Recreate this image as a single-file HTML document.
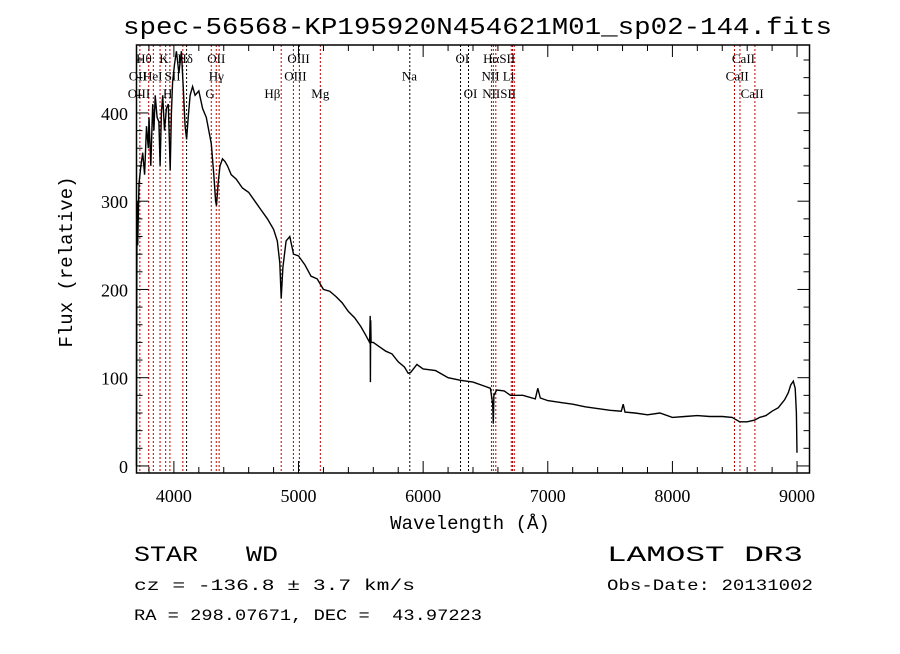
<!DOCTYPE html>
<html><head><meta charset="utf-8"><style>
body{margin:0;background:#fff;}
svg text{font-family:"Liberation Serif",serif;fill:#000;white-space:pre;}
.mono{font-family:"Liberation Mono",monospace;}
</style></head><body>
<svg id="chart" width="900" height="649" xmlns="http://www.w3.org/2000/svg">
<rect width="900" height="649" fill="#fff"/>
<text class="mono" x="123" y="34" font-size="24" textLength="709" lengthAdjust="spacingAndGlyphs">spec-56568-KP195920N454621M01_sp02-144.fits</text>
<g id="lines"></g>
<g id="labels"></g>
<g id="plot"></g>
<g id="axes"></g>
<text class="mono" x="470" y="529" font-size="19" text-anchor="middle">Wavelength (Å)</text>
<text class="mono" transform="translate(72,262) rotate(-90)" font-size="19" text-anchor="middle">Flux (relative)</text>
<text class="mono" x="134" y="561" font-size="22" textLength="144" lengthAdjust="spacingAndGlyphs" xml:space="preserve">STAR   WD</text>
<text class="mono" x="607" y="561" font-size="22" textLength="196" lengthAdjust="spacingAndGlyphs">LAMOST DR3</text>
<text class="mono" x="134" y="590" font-size="16" textLength="281" lengthAdjust="spacingAndGlyphs">cz = -136.8 ± 3.7 km/s</text>
<text class="mono" x="607" y="590" font-size="16" textLength="206" lengthAdjust="spacingAndGlyphs">Obs-Date: 20131002</text>
<text class="mono" x="134" y="620" font-size="16" textLength="348" lengthAdjust="spacingAndGlyphs" xml:space="preserve">RA = 298.07671, DEC =  43.97223</text>
</svg>
<script>
const wave = [3700,3702,3705,3710,3720,3735,3750,3765,3780,3795,3800,3815,3830,3840,3850,3865,3880,3889,3900,3910,3925,3940,3955,3970,3980,3990,4005,4020,4040,4060,4075,4090,4102,4115,4130,4150,4170,4200,4230,4260,4280,4300,4320,4335,4342,4355,4370,4390,4410,4430,4460,4500,4550,4600,4650,4700,4750,4800,4830,4850,4861,4875,4900,4930,4960,5000,5050,5100,5150,5200,5250,5300,5350,5400,5450,5500,5540,5570,5575,5577,5579,5582,5600,5650,5700,5750,5800,5850,5880,5900,5950,6000,6100,6200,6300,6400,6500,6540,6558,6563,6568,6590,6650,6700,6800,6900,6920,6940,7000,7100,7200,7300,7400,7500,7590,7605,7620,7700,7800,7900,8000,8100,8200,8300,8400,8480,8540,8600,8660,8700,8750,8800,8850,8900,8930,8950,8970,8985,8995,9000];
const flux = [0,160,300,250,320,340,355,330,385,360,395,340,410,380,420,395,390,340,400,420,380,405,410,335,400,435,455,470,445,470,430,385,370,395,420,430,420,425,405,395,380,365,330,300,295,320,340,348,345,340,330,325,315,310,300,290,280,268,255,230,190,225,255,260,240,238,228,215,212,200,198,192,185,175,168,158,148,140,170,95,165,140,140,135,130,127,118,112,105,106,115,110,108,100,97,95,90,88,70,48,80,86,85,80,80,76,88,77,74,72,70,67,65,63,62,70,61,60,58,60,55,56,57,56,56,55,50,50,52,55,57,62,66,75,83,92,96,88,60,15];
const markWave = [3727,3798,3835,3889,3934,3968,4072,4102,4300,4340,4363,4861,4959,5007,5175,5893,6300,6364,6548,6563,6583,6707,6717,6731,8498,8542,8662];
const markColor = ["r","r","r","r","r","r","r","k","r","r","r","r","r","r","r","k","k","k","r","r","r","r","r","r","r","r","r"];
const labelText = ["Hθ","K","Hδ","OII","OIII","OI","HαSII","CaII","OII","HeI","SII","Hγ","OIII","Na","NII Li","CaII","OIII","H","G","Hβ","Mg","OI","NIISII","CaII"];
const labelWave = [3760,3920,4090,4340,5000,6315,6610,8570,3710,3830,3990,4340,4975,5890,6600,8520,3720,3950,4290,4790,5175,6380,6610,8640];
const labelRow = [0,0,0,0,0,0,0,0,1,1,1,1,1,1,1,1,2,2,2,2,2,2,2,2];
const xTicks = [4000,5000,6000,7000,8000,9000];
const yTicks = [0,100,200,300,400];

const X0=136.5,X1=809.5,Y0=473,Y1=45;
const xmin=3700,xmax=9100,ymin=-8,ymax=477;
const xs=w=>X0+(w-xmin)/(xmax-xmin)*(X1-X0);
const ys=f=>Y0-(f-ymin)/(ymax-ymin)*(Y0-Y1);
const NS="http://www.w3.org/2000/svg";
function mk(tag,parent){const e=document.createElementNS(NS,tag);document.getElementById(parent).appendChild(e);return e;}

markWave.forEach((w,i)=>{
  const l=mk('line','lines');
  
  
  l.setAttribute('x1',xs(w));l.setAttribute('x2',xs(w));
  l.setAttribute('y1',Y1);l.setAttribute('y2',Y0);
  l.setAttribute('stroke',markColor[i]==="r"?"#c00000":"#000");
  l.setAttribute('stroke-width','1');l.setAttribute('stroke-dasharray','2,2');
});
labelText.forEach((t,i)=>{
  const e=mk('text','labels');
  
  
  e.setAttribute('x',xs(labelWave[i]));e.setAttribute('y',63+labelRow[i]*17.5);
  e.setAttribute('font-size','13');e.setAttribute('text-anchor','middle');
  e.textContent=t;
});
const p=mk('polyline','plot');


p.setAttribute('points',wave.map((w,i)=>xs(w).toFixed(1)+','+ys(flux[i]).toFixed(1)).join(' '));
p.setAttribute('fill','none');p.setAttribute('stroke','#000');p.setAttribute('stroke-width','1.4');

const fr=mk('rect','axes');


fr.setAttribute('x',X0);fr.setAttribute('y',Y1);fr.setAttribute('width',X1-X0);fr.setAttribute('height',Y0-Y1);
fr.setAttribute('fill','none');fr.setAttribute('stroke','#000');fr.setAttribute('stroke-width','1.5');
function tick(x1,y1,x2,y2){const t=mk('line','axes');
  
  
  t.setAttribute('x1',x1);t.setAttribute('y1',y1);t.setAttribute('x2',x2);t.setAttribute('y2',y2);t.setAttribute('stroke','#000');}
for(let w=3800;w<=9100;w+=200){const maj=w%1000===0;const L=maj?12:6;tick(xs(w),Y0,xs(w),Y0-L);tick(xs(w),Y1,xs(w),Y1+L);}
for(let f=0;f<=470;f+=20){const maj=f%100===0;const L=maj?12:6;tick(X0,ys(f),X0+L,ys(f));tick(X1,ys(f),X1-L,ys(f));}
xTicks.forEach(v=>{const e=mk('text','axes');
  
  
  e.setAttribute('x',xs(v));e.setAttribute('y',502);e.setAttribute('font-size','18');e.setAttribute('text-anchor','middle');
  e.setAttribute('font-family','Liberation Sans, sans-serif');e.textContent=v;});
yTicks.forEach(v=>{const e=mk('text','axes');
  
  
  e.setAttribute('x',128);e.setAttribute('y',ys(v)+7);e.setAttribute('font-size','18');e.setAttribute('text-anchor','end');
  e.setAttribute('font-family','Liberation Sans, sans-serif');e.textContent=v;});
</script>
</body></html>
